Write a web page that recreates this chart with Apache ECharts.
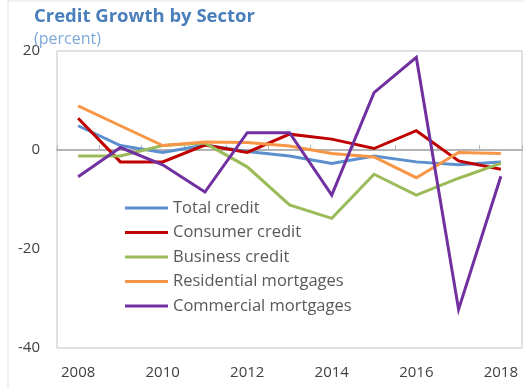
<!DOCTYPE html>
<html>
<head>
<meta charset="utf-8">
<script src="https://cdn.jsdelivr.net/npm/echarts@6/dist/echarts.min.js"></script>
<style>
  html, body { margin: 0; padding: 0; background: #fff; }
  #chart { width: 524px; height: 388px; }
</style>
</head>
<body>
<div id="chart"></div>
<script>
// Annual credit growth by sector, percent
const years = ['2008','2009','2010','2011','2012','2013','2014','2015','2016','2017','2018'];
const totalCredit       = [4.9, 0.9, -0.5, 1.0, -0.3, -1.2, -2.7, -1.2, -2.4, -3.0, -2.4];
const consumerCredit    = [6.4, -2.4, -2.4, 1.0, -0.5, 3.2, 2.2, 0.3, 3.9, -2.2, -3.9];
const businessCredit    = [-1.2, -1.2, 0.9, 1.4, -3.4, -11.1, -13.8, -4.9, -9.1, -5.7, -2.7];
const residentialMort   = [8.9, 4.9, 0.9, 1.6, 1.5, 0.8, -0.7, -1.4, -5.6, -0.5, -0.7];
const commercialMort    = [-5.4, 0.5, -3.0, -8.5, 3.5, 3.5, -9.1, 11.6, 18.7, -32.2, -5.3];
const yTicks = { min: -40, max: 20, step: 20 };

const seriesDefs = [
  { name: 'Total credit', data: totalCredit, color: '#5b8fcd' },
  { name: 'Consumer credit', data: consumerCredit, color: '#c00000' },
  { name: 'Business credit', data: businessCredit, color: '#9bbb59' },
  { name: 'Residential mortgages', data: residentialMort, color: '#f79646' },
  { name: 'Commercial mortgages', data: commercialMort, color: '#7030a0' }
];

const FONT = '"Open Sans", "Noto Sans", sans-serif';
const chart = echarts.init(document.getElementById('chart'), null, { renderer: 'canvas' });

chart.setOption({
  animation: false,
  textStyle: { fontFamily: FONT },
  title: {
    text: 'Credit Growth by Sector',
    subtext: '(percent)',
    left: 34,
    top: 7,
    itemGap: 5,
    padding: 0,
    textStyle: { fontFamily: FONT, fontSize: 18.5, fontWeight: 'bold', color: '#4a7ebb' },
    subtextStyle: { fontFamily: FONT, fontSize: 16, color: '#7ea9d9' }
  },
  graphic: [
    { type: 'line', shape: { x1: 8, y1: 1, x2: 8, y2: 388 }, style: { stroke: '#e4e4e4', lineWidth: 1 } },
    { type: 'line', shape: { x1: 8, y1: 1, x2: 524, y2: 1 }, style: { stroke: '#e4e4e4', lineWidth: 1 } }
  ],
  legend: {
    orient: 'vertical',
    left: 125,
    top: 198,
    padding: 0,
    itemGap: 4.5,
    itemWidth: 43,
    itemHeight: 3,
    icon: 'rect',
    textStyle: { fontFamily: FONT, fontSize: 16.5, color: '#595959', lineHeight: 20 },
    data: seriesDefs.map(s => s.name)
  },
  grid: {
    left: 57, right: 2, top: 51, bottom: 40,
    show: true, borderColor: '#c4c4c4', borderWidth: 1,
    containLabel: false
  },
  xAxis: [
    {
      type: 'category',
      data: years,
      boundaryGap: true,
      position: 'bottom',
      axisLine: { onZero: true, lineStyle: { color: '#b4b4b4', width: 2 } },
      axisTick: { show: true, inside: true, length: 5, interval: 0, lineStyle: { color: '#b4b4b4' } },
      axisLabel: { show: false },
      splitLine: { show: false }
    },
    {
      type: 'category',
      data: years,
      boundaryGap: true,
      position: 'bottom',
      axisLine: { show: false, onZero: false },
      axisTick: { show: false },
      axisLabel: { interval: 1, margin: 17, fontFamily: FONT, fontSize: 15, color: '#404040' },
      splitLine: { show: false }
    }
  ],
  yAxis: {
    type: 'value',
    min: yTicks.min,
    max: yTicks.max,
    interval: yTicks.step,
    axisLine: { show: false },
    axisTick: { show: false },
    splitLine: { show: false },
    axisLabel: { margin: 17, fontFamily: FONT, fontSize: 15, color: '#404040' }
  },
  series: seriesDefs.map(s => ({
    name: s.name,
    type: 'line',
    xAxisIndex: 0,
    data: s.data,
    symbol: 'none',
    color: s.color,
    lineStyle: { width: 3, color: s.color, join: 'miter' }
  }))
});
</script>
</body>
</html>
